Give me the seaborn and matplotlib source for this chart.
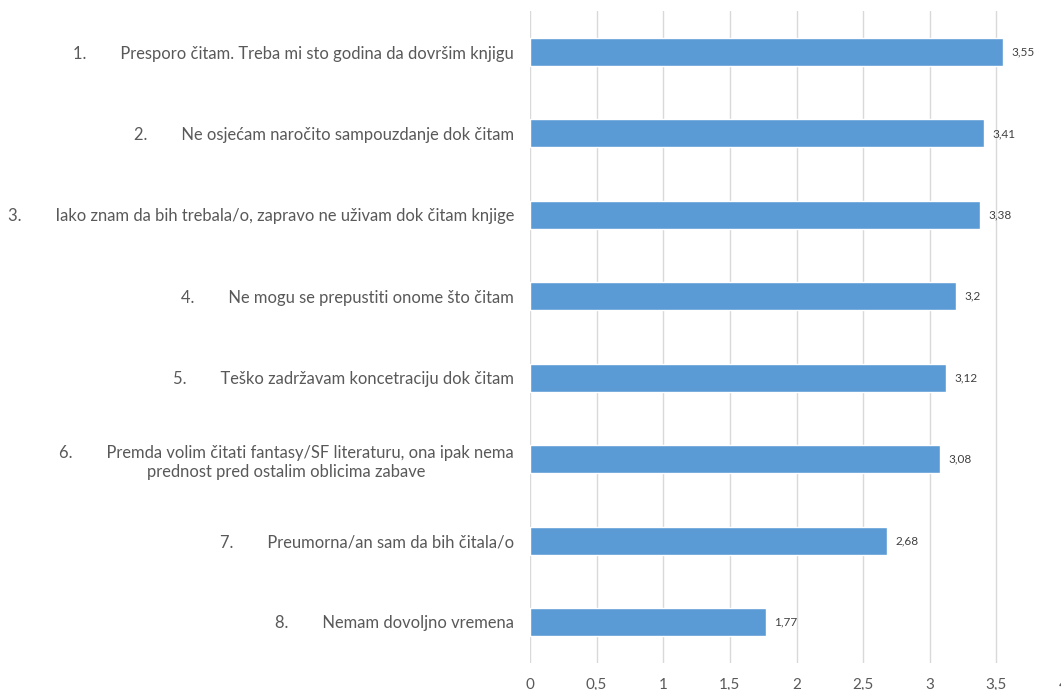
import pandas as pd
import matplotlib.pyplot as plt
import seaborn as sns

sns.set_theme(style="white")
plt.rcParams["font.family"] = ["Lato", "DejaVu Sans"]

numbers = ["1.", "2.", "3.", "4.", "5.", "6.", "7.", "8."]
statements = [
    "Presporo čitam. Treba mi sto godina da dovršim knjigu",
    "Ne osjećam naročito sampouzdanje dok čitam",
    "Iako znam da bih trebala/o, zapravo ne uživam dok čitam knjige",
    "Ne mogu se prepustiti onome što čitam",
    "Teško zadržavam koncetraciju dok čitam",
    "Premda volim čitati fantasy/SF literaturu, ona ipak nema\nprednost pred ostalim oblicima zabave",
    "Preumorna/an sam da bih čitala/o",
    "Nemam dovoljno vremena",
]
scores = [3.55, 3.41, 3.38, 3.2, 3.12, 3.08, 2.68, 1.77]
x_ticks = [0, 0.5, 1, 1.5, 2, 2.5, 3, 3.5, 4]

labels = [n + " " * 8 + s for n, s in zip(numbers, statements)]
df = pd.DataFrame({"label": labels, "score": scores})

fig = plt.figure(figsize=(10.61, 6.9), dpi=100)
ax = fig.add_axes([530 / 1061, 27.3 / 690, 533 / 1061, 651.4 / 690])
sns.barplot(data=df, x="score", y="label", color="#5B9BD5", width=0.345,
            orient="h", saturation=1, ax=ax)

ax.set_xlim(0, 4)
ax.set_ylim(7.5, -0.5)
ax.set_xticks(x_ticks)
ax.set_xticklabels([f"{t:g}".replace(".", ",") for t in x_ticks])
ax.xaxis.grid(True, color="#d9d9d9", linewidth=1)
ax.set_axisbelow(True)
for s in ax.spines.values():
    s.set_visible(False)
ax.tick_params(axis="y", length=0, pad=11.5, labelsize=11.9, labelcolor="#595959")
ax.tick_params(axis="x", length=0, pad=11, labelsize=11, labelcolor="#595959")
for t in ax.get_yticklabels():
    t.set_multialignment("center")
    t.set_linespacing(1.25)
ax.set_xlabel("")
ax.set_ylabel("")

for p, v in zip(ax.patches, scores):
    ax.annotate(f"{v:g}".replace(".", ","),
                (p.get_width(), p.get_y() + p.get_height() / 2),
                xytext=(6, 0), textcoords="offset points",
                ha="left", va="center", fontsize=8.5, color="#404040")

fig.savefig("out.png", dpi=100)
